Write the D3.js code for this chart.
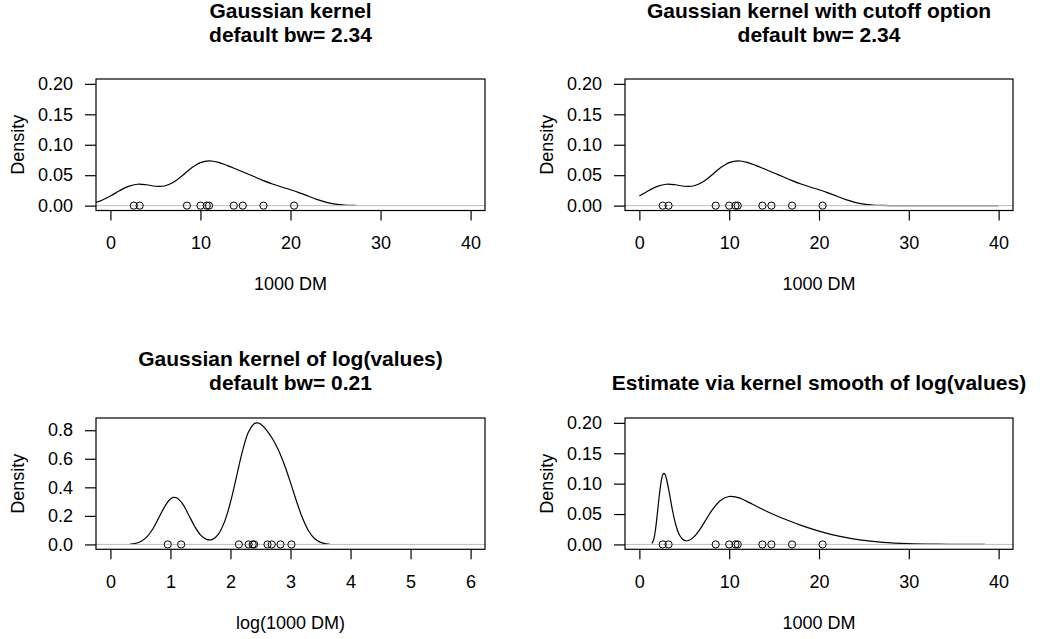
<!DOCTYPE html>
<html>
<head>
<meta charset="utf-8">
<script src="https://cdn.jsdelivr.net/npm/d3@7"></script>
<style>
  body { margin: 0; background: #fff; }
  svg { display: block; }
  text { font-family: "Liberation Sans", Arial, Helvetica, sans-serif; fill: #000; }
</style>
</head>
<body>
<svg id="chart" width="1045" height="639"></svg>
<script>
// Observed amounts (1000 DM)
const amounts = [2.6, 3.25, 8.5, 10.0, 10.7, 10.95, 13.7, 14.7, 17.0, 20.4];

// Gaussian kernel estimate, bw = 2.34
const kernelX = [-2, -1, 0, 1, 2, 3, 4, 5, 6, 7, 8, 9, 10, 11, 12, 13, 14, 15, 16, 17, 18, 19, 20, 21, 22, 23, 24, 25, 26, 27, 27.4];
const kernelY = [0.00385, 0.00850, 0.01571, 0.02436, 0.03171, 0.03516, 0.03426, 0.03185, 0.03224, 0.03844,
                 0.04949, 0.06180, 0.07067, 0.07354, 0.07108, 0.06579, 0.05976, 0.05361, 0.04732, 0.04109,
                 0.03547, 0.03064, 0.02608, 0.02104, 0.01540, 0.00987, 0.00542, 0.00252, 0.00098, 0.00032, 0.00019];

// Same kernel evaluated on the cut-off range 0..40
const cutoffX = [0, 1, 2, 3, 4, 5, 6, 7, 8, 9, 10, 11, 12, 13, 14, 15, 16, 17, 18, 19, 20, 21, 22, 23, 24, 25, 26, 27, 28, 29, 30, 32, 35, 40];
const cutoffY = [0.01571, 0.02436, 0.03171, 0.03516, 0.03426, 0.03185, 0.03224, 0.03844, 0.04949, 0.06180,
                 0.07067, 0.07354, 0.07108, 0.06579, 0.05976, 0.05361, 0.04732, 0.04109, 0.03547, 0.03064,
                 0.02608, 0.02104, 0.01540, 0.00987, 0.00542, 0.00252, 0.00098, 0.00032, 0.00008, 0.00002,
                 0, 0, 0, 0];

// Gaussian kernel estimate of log(values), bw = 0.21
const logX = [0.33, 0.4, 0.5, 0.6, 0.7, 0.8, 0.9, 0.95, 1.0, 1.05, 1.1, 1.2, 1.3, 1.4, 1.5, 1.6, 1.7, 1.8, 1.9,
              2.0, 2.1, 2.2, 2.3, 2.4, 2.45, 2.5, 2.6, 2.7, 2.8, 2.9, 3.0, 3.1, 3.2, 3.3, 3.4, 3.5, 3.6, 3.65];
const logY = [0.0023, 0.0059, 0.0191, 0.0496, 0.1048, 0.1818, 0.2622, 0.2950, 0.3180, 0.3291, 0.3270, 0.2854,
              0.2103, 0.1296, 0.0675, 0.0351, 0.0353, 0.0728, 0.1579, 0.2959, 0.4739, 0.6534, 0.7872, 0.8475,
              0.8516, 0.8429, 0.8012, 0.7401, 0.6601, 0.5566, 0.4330, 0.3024, 0.1845, 0.0957, 0.0413, 0.0147,
              0.0042, 0.0022];

// Back-transformed estimate on the 1000 DM scale
const backX = [1.39, 1.49, 1.65, 1.82, 2.01, 2.23, 2.46, 2.59, 2.72, 2.86, 3.00, 3.32, 3.67, 4.06, 4.48, 4.95,
               5.47, 6.05, 6.69, 7.39, 8.17, 9.03, 9.97, 11.02, 11.59, 12.18, 13.46, 14.88, 16.44, 18.17, 20.09,
               22.20, 24.53, 27.11, 29.96, 33.12, 36.60, 38.47];
const backY = [0.0017, 0.0040, 0.0116, 0.0272, 0.0520, 0.0817, 0.1066, 0.1141, 0.1170, 0.1152, 0.1089, 0.0860,
               0.0573, 0.0320, 0.0151, 0.0071, 0.0065, 0.0120, 0.0236, 0.0401, 0.0580, 0.0724, 0.0789, 0.0769,
               0.0735, 0.0692, 0.0595, 0.0497, 0.0401, 0.0306, 0.0216, 0.0136, 0.0075, 0.0035, 0.0014, 0.0004,
               0.0001, 0.0001];

// Axis ticks
const dmTicks = [0, 10, 20, 30, 40];
const logTicks = [0, 1, 2, 3, 4, 5, 6];
const densTicks = [0, 0.05, 0.10, 0.15, 0.20];
const logDensTicks = [0, 0.2, 0.4, 0.6, 0.8];

// Titles
const titles = [
  ["Gaussian kernel", "default bw= 2.34"],
  ["Gaussian kernel with cutoff option", "default bw= 2.34"],
  ["Gaussian kernel of log(values)", "default bw= 0.21"],
  ["Estimate via kernel smooth of log(values)"]
];
const xLabels = ["1000 DM", "1000 DM", "log(1000 DM)", "1000 DM"];

const panels = [
  { box: {left: 96, right: 485, top: 79, bottom: 210.5}, xlim: [0, 40], ylim: [0, 0.2],
    xs: kernelX, ys: kernelY, pts: amounts, xt: dmTicks, yt: densTicks, yf: d3.format(".2f"),
    title: titles[0], titleY: [11, 35], xlab: xLabels[0] },
  { box: {left: 625, right: 1013, top: 79, bottom: 210.5}, xlim: [0, 40], ylim: [0, 0.2],
    xs: cutoffX, ys: cutoffY, pts: amounts, xt: dmTicks, yt: densTicks, yf: d3.format(".2f"),
    title: titles[1], titleY: [11, 35], xlab: xLabels[1] },
  { box: {left: 96, right: 485, top: 418, bottom: 549.3}, xlim: [0, 6], ylim: [0, d3.max(logY)],
    xs: logX, ys: logY, pts: amounts.map(Math.log), xt: logTicks, yt: logDensTicks, yf: d3.format(".1f"),
    title: titles[2], titleY: [359, 383], xlab: xLabels[2] },
  { box: {left: 625, right: 1013, top: 418, bottom: 549.3}, xlim: [0, 40], ylim: [0, 0.2],
    xs: backX, ys: backY, pts: amounts, xt: dmTicks, yt: densTicks, yf: d3.format(".2f"),
    title: titles[3], titleY: [383], xlab: xLabels[3] }
];

const svg = d3.select("#chart");
const defs = svg.append("defs");
const FS = 18;
const TITLE_FS = 21;

panels.forEach((p, i) => {
  const b = p.box;
  const xr = p.xlim[1] - p.xlim[0], yr = p.ylim[1] - p.ylim[0];
  const x = d3.scaleLinear().domain([p.xlim[0] - 0.04 * xr, p.xlim[1] + 0.04 * xr]).range([b.left, b.right]);
  const y = d3.scaleLinear().domain([p.ylim[0] - 0.04 * yr, p.ylim[1] + 0.04 * yr]).range([b.bottom, b.top]);

  defs.append("clipPath").attr("id", "plotclip" + i)
    .append("rect").attr("x", b.left).attr("y", b.top)
    .attr("width", b.right - b.left).attr("height", b.bottom - b.top);

  const g = svg.append("g");
  const plot = g.append("g").attr("clip-path", `url(#plotclip${i})`);

  const line = d3.line()
    .x(d => x(d[0])).y(d => y(d[1]))
    .curve(d3.curveCatmullRom.alpha(0.5));
  plot.append("path")
    .datum(d3.zip(p.xs, p.ys))
    .attr("d", line)
    .attr("fill", "none").attr("stroke", "#000").attr("stroke-width", 1.2);

  // zero reference line
  plot.append("line")
    .attr("x1", b.left).attr("x2", b.right)
    .attr("y1", y(0)).attr("y2", y(0))
    .attr("stroke", "#bebebe").attr("stroke-width", 1);

  // observations along the baseline
  plot.selectAll("circle").data(p.pts).join("circle")
    .attr("cx", d => x(d)).attr("cy", y(0)).attr("r", 3.6)
    .attr("fill", "none").attr("stroke", "#000").attr("stroke-width", 1);

  // axes
  const xAxis = d3.axisBottom(x).tickValues(p.xt).tickSize(10).tickPadding(16).tickFormat(d3.format("d"));
  const gx = g.append("g").attr("transform", `translate(0,${b.bottom})`).call(xAxis);
  const yAxis = d3.axisLeft(y).tickValues(p.yt).tickSize(11).tickPadding(12).tickFormat(p.yf);
  const gy = g.append("g").attr("transform", `translate(${b.left},0)`).call(yAxis);
  [gx, gy].forEach(a => {
    a.select(".domain").remove();
    a.selectAll("line").attr("stroke", "#000").attr("stroke-width", 1.2);
    a.selectAll("text").attr("font-size", FS).attr("font-family", null).attr("fill", "#000");
  });

  // frame
  g.append("rect")
    .attr("x", b.left).attr("y", b.top)
    .attr("width", b.right - b.left).attr("height", b.bottom - b.top)
    .attr("fill", "none").attr("stroke", "#000").attr("stroke-width", 1.2);

  const cx = (b.left + b.right) / 2;

  // axis titles
  g.append("text").attr("x", cx).attr("y", b.bottom + 73).attr("dy", "0.35em")
    .attr("text-anchor", "middle").attr("font-size", FS).text(p.xlab);
  g.append("text")
    .attr("transform", `translate(${b.left - 78},${(b.top + b.bottom) / 2}) rotate(-90)`)
    .attr("dy", "0.35em").attr("text-anchor", "middle").attr("font-size", FS).text("Density");

  // main title
  p.title.forEach((t, k) => {
    g.append("text").attr("x", cx).attr("y", p.titleY[k]).attr("dy", "0.35em")
      .attr("text-anchor", "middle").attr("font-size", TITLE_FS).attr("font-weight", "bold").text(t);
  });
});
</script>
</body>
</html>
